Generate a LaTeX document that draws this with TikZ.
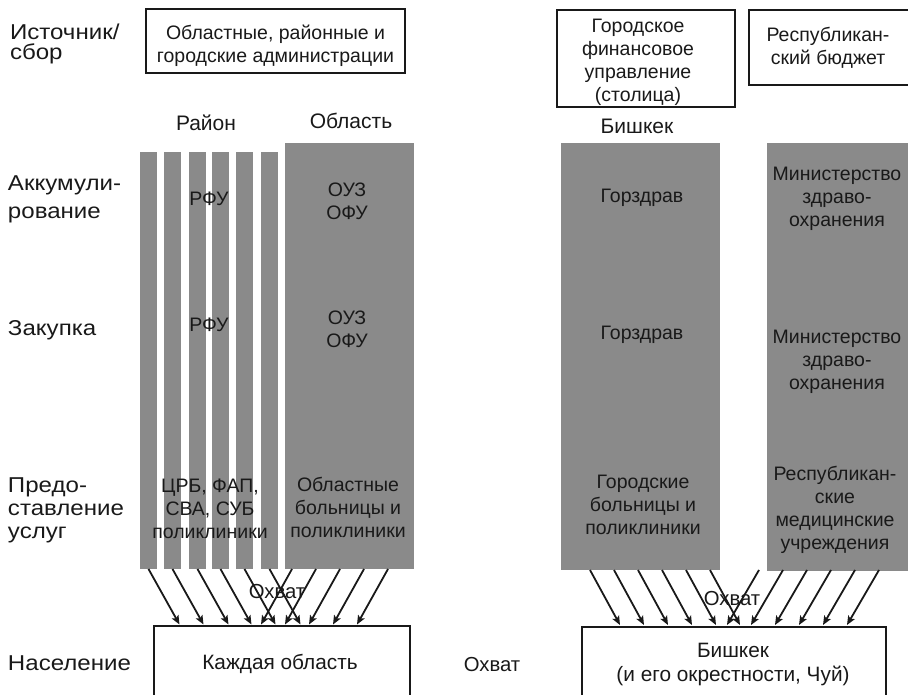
\documentclass[tikz,border=0pt]{standalone}
\usepackage{fontspec}
\setmainfont{Liberation Sans}
\newfontfamily\widefont[FakeStretch=1.12]{Liberation Sans}
\usetikzlibrary{arrows.meta}
\definecolor{barg}{RGB}{138,138,138}
\definecolor{ink}{RGB}{25,25,25}
\begin{document}
\begin{tikzpicture}[x=1pt,y=-1pt,
  every node/.style={inner sep=0pt, outer sep=0pt, text=ink, font=\fontsize{19.5}{23}\selectfont},
  bar/.style={fill=barg, draw=none, anchor=north west},
  obox/.style={draw=ink, line width=2.8pt, anchor=north west},
  txt/.style={align=center},
  big/.style={font=\fontsize{21}{24}\selectfont},
  lbl/.style={align=left, anchor=west, font=\widefont\fontsize{21.5}{23}\selectfont},
  arr/.style={draw=ink, line width=1.8pt, -{Stealth[length=9pt,width=7.5pt,inset=2pt]}}
]
\useasboundingbox (0,0) rectangle (908,695);

% top row
\node[lbl, font=\widefont\fontsize{21.5}{20.5}\selectfont] (src) at (10,44) {Источник/\\сбор};
\node[obox, minimum width=259pt, minimum height=64pt] (adm) at (146,9) {};
\node[txt] (admt) at (275.5,46) {Областные, районные и\\городские администрации};
\node[obox, minimum width=178pt, minimum height=97pt] (gfu) at (557,10) {};
\node[txt] (gfut) at (638,62.5) {Городское\\финансовое\\управление\\(столица)};
\node[obox, minimum width=162pt, minimum height=75pt] (rb) at (749,10) {};
\node[txt] (rbt) at (828,47.5) {Республикан-\\ский бюджет};

\node[big] (rayon) at (206,123) {Район};
\node[big] (oblast) at (351,121) {Область};
\node[big] (bish) at (637,126) {Бишкек};

% bars
\node[bar, minimum width=17pt, minimum height=417pt] (r1) at (140,152) {};
\node[bar, minimum width=17pt, minimum height=417pt] (r2) at (164,152) {};
\node[bar, minimum width=17pt, minimum height=417pt] (r3) at (189,152) {};
\node[bar, minimum width=17pt, minimum height=417pt] (r4) at (212,152) {};
\node[bar, minimum width=17pt, minimum height=417pt] (r5) at (236,152) {};
\node[bar, minimum width=17pt, minimum height=417pt] (r6) at (261,152) {};
\node[bar, minimum width=129pt, minimum height=426pt] (obl) at (285,143) {};
\node[bar, minimum width=159pt, minimum height=427pt] (gorz) at (561,143) {};
\node[bar, minimum width=142pt, minimum height=428pt] (minz) at (767,143) {};

% row labels
\node[lbl] (acc) at (8,199) {Аккумули-\\[5pt]рование};
\node[lbl] (zak) at (8,330) {Закупка};
\node[lbl] (pred) at (8,510) {Предо-\\ставление\\услуг};
\node[lbl] (nas) at (8,663) {Население};

% texts in bars
\node[txt] (rfu1) at (209,199) {РФУ};
\node[txt] (rfu2) at (209,325) {РФУ};
\node[txt] (ouz1) at (347,201) {ОУЗ\\ОФУ};
\node[txt] (ouz2) at (347,329) {ОУЗ\\ОФУ};
\node[txt] (crb) at (210,509) {ЦРБ, ФАП,\\СВА, СУБ\\поликлиники};
\node[txt] (oblh) at (348,507.5) {Областные\\больницы и\\поликлиники};
\node[txt] (gz1) at (642,198) {Горздрав};
\node[txt] (gz2) at (642,335) {Горздрав};
\node[txt] (mz1) at (837,199) {Министерство\\здраво-\\охранения};
\node[txt] (mz2) at (837,362) {Министерство\\здраво-\\охранения};
\node[txt] (gh) at (643,505) {Городские\\больницы и\\поликлиники};
\node[txt] (rh) at (835,510) {Республикан-\\ские\\медицинские\\учреждения};

% coverage labels
\node[font=\fontsize{20.3}{24}\selectfont] (ox1) at (277,592) {Охват};
\node[font=\fontsize{20.3}{24}\selectfont] (ox2) at (732,599) {Охват};
\node[font=\fontsize{20.3}{24}\selectfont] (ox3) at (492,665) {Охват};

% population boxes
\node[obox, minimum width=256pt, minimum height=120pt] (each) at (154,626) {};
\node[txt, font=\fontsize{20.8}{24}\selectfont] (eacht) at (280,664) {Каждая область};
\node[obox, minimum width=304pt, minimum height=120pt] (bbox) at (582,627) {};
\node[txt, font=\fontsize{20.8}{24}\selectfont] (bbt) at (733,664) {Бишкек\\(и его окрестности, Чуй)};

% arrows left
\foreach \n/\sx/\d in {1/148.5/31, 2/172.5/31, 3/197.5/31, 4/220.5/31, 5/244.5/31, 6/269.5/31, 7/292/-31, 8/316/-31, 9/340/-31, 10/364/-31, 11/388/-31}{
  \coordinate (ls\n) at (\sx,569);
  \coordinate (le\n) at ({\sx+(\d)},624.5);
  \draw[arr] (ls\n) -- (le\n);
}
% arrows right
\foreach \n/\sx/\d in {1/590/30, 2/614/30, 3/638/30, 4/662/30, 5/686/30, 6/710/30, 7/759/-32, 8/783/-32, 9/807/-32, 10/831/-32, 11/855/-32, 12/879/-32}{
  \coordinate (rs\n) at (\sx,570);
  \coordinate (re\n) at ({\sx+(\d)},625);
  \draw[arr] (rs\n) -- (re\n);
}
\end{tikzpicture}
\end{document}
